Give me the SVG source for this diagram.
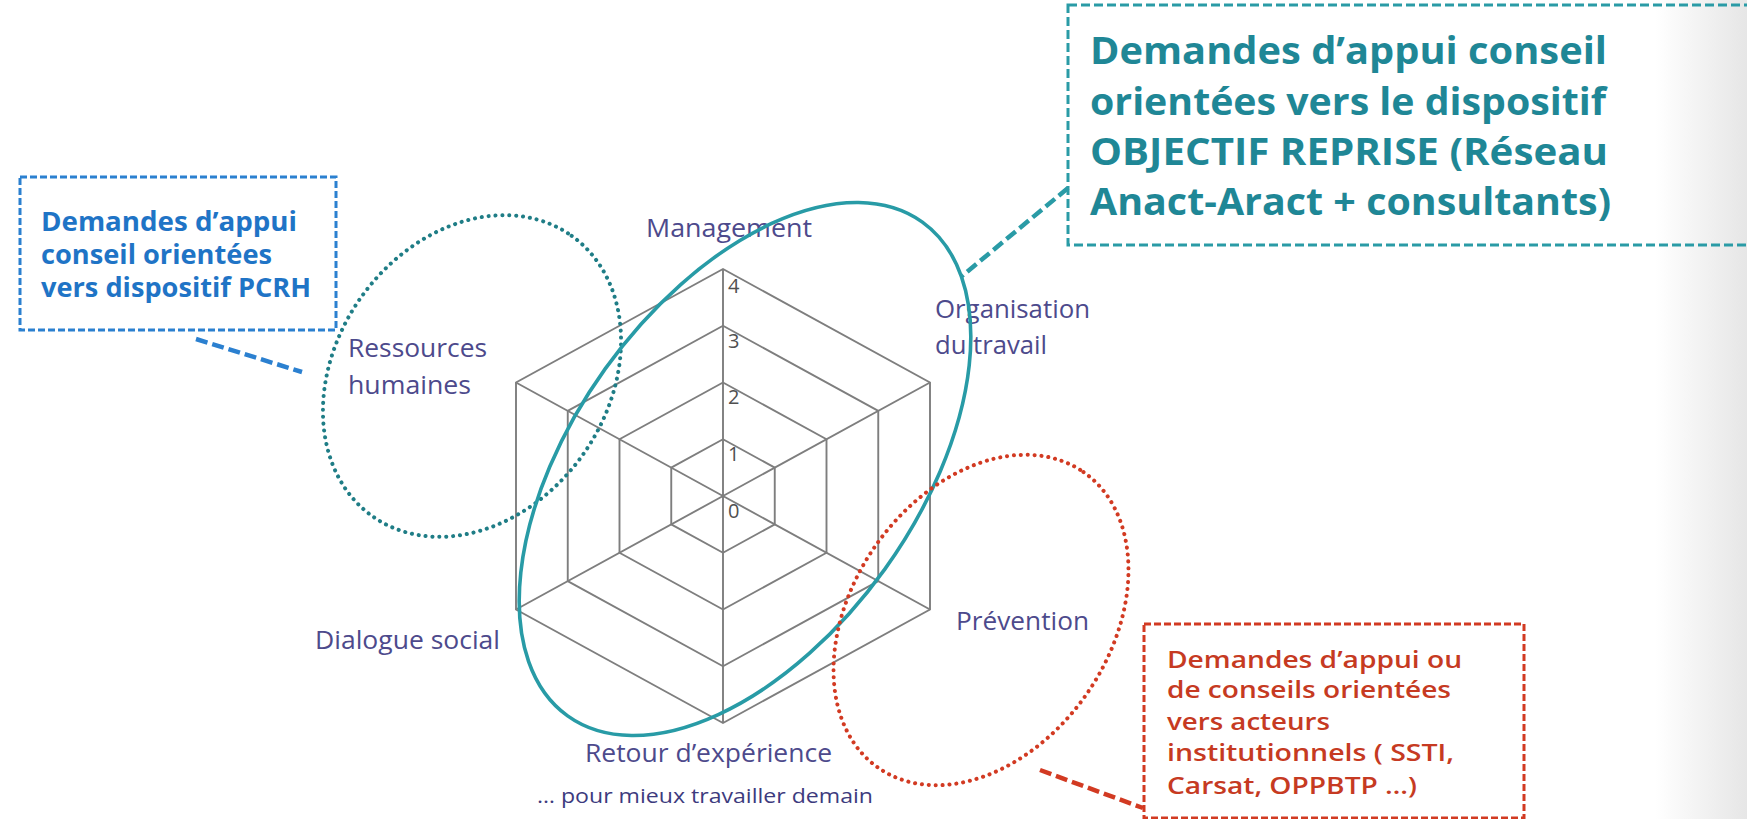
<svg xmlns="http://www.w3.org/2000/svg" width="1747" height="819" viewBox="0 0 1747 819">
<defs>
<linearGradient id="edge" x1="0" y1="0" x2="1" y2="0">
<stop offset="0" stop-color="#ffffff"/>
<stop offset="1" stop-color="#e6e6e6"/>
</linearGradient>
<style>
.grid{fill:none;stroke:#7e7e7e;stroke-width:1.9}
.num{font-family:'Open Sans','Liberation Sans',sans-serif;font-size:20px;fill:#505050}
.axis{font-family:'Open Sans','Liberation Sans',sans-serif;font-size:25px;font-weight:500;fill:#4d4a8c}
.cap{font-family:'Open Sans','Liberation Sans',sans-serif;font-size:20px;font-weight:500;fill:#3d3b7e}
.tpcrh{font-family:'Open Sans','Liberation Sans',sans-serif;font-size:26px;font-weight:bold;fill:#1f74c6}
.tobj{font-family:'Open Sans','Liberation Sans',sans-serif;font-size:37px;font-weight:bold;fill:#1f8796}
.tred{font-family:'Open Sans','Liberation Sans',sans-serif;font-size:24px;font-weight:600;fill:#c63a22}
.dotteal{fill:none;stroke:#1f7d86;stroke-width:4;stroke-linecap:round;stroke-dasharray:0.1 6.8}
.dotred{fill:none;stroke:#d23a22;stroke-width:4;stroke-linecap:round;stroke-dasharray:0.1 6.8}
.solidteal{fill:none;stroke:#289ba6;stroke-width:3.6}
.boxblue{fill:none;stroke:#2b80d0;stroke-width:3;stroke-dasharray:7 3}
.boxteal{fill:none;stroke:#2a9ba6;stroke-width:3;stroke-dasharray:9 4}
.boxred{fill:none;stroke:#d23a22;stroke-width:3;stroke-dasharray:7 3}
.conn{fill:none;stroke-width:4.5;stroke-dasharray:12 5}
</style>
</defs>
<rect x="0" y="0" width="1747" height="819" fill="#ffffff"/>
<rect x="1655" y="0" width="92" height="819" fill="url(#edge)"/>

<g id="radar">
<polygon class="grid" points="723,439.25 774.75,467.625 774.75,524.375 723,552.75 671.25,524.375 671.25,467.625"/>
<polygon class="grid" points="723,382.5 826.5,439.25 826.5,552.75 723,609.5 619.5,552.75 619.5,439.25"/>
<polygon class="grid" points="723,325.75 878.25,410.875 878.25,581.125 723,666.25 567.75,581.125 567.75,410.875"/>
<polygon class="grid" points="723,269 930,382.5 930,609.5 723,723 516,609.5 516,382.5"/>
<path class="grid" d="M723,496 L723,269 M723,496 L930,382.5 M723,496 L930,609.5 M723,496 L723,723 M723,496 L516,609.5 M723,496 L516,382.5"/>
<text class="num" x="728" y="293">4</text>
<text class="num" x="728" y="348">3</text>
<text class="num" x="728" y="404">2</text>
<text class="num" x="728" y="461">1</text>
<text class="num" x="728" y="518">0</text>
</g>

<g id="axis-labels">
<text class="axis" x="646" y="237" textLength="166" lengthAdjust="spacingAndGlyphs">Management</text>
<text class="axis" x="935" y="318" textLength="155" lengthAdjust="spacingAndGlyphs">Organisation</text>
<text class="axis" x="935" y="354" textLength="112" lengthAdjust="spacingAndGlyphs">du travail</text>
<text class="axis" x="348" y="357" textLength="139" lengthAdjust="spacingAndGlyphs">Ressources</text>
<text class="axis" x="348" y="394" textLength="123" lengthAdjust="spacingAndGlyphs">humaines</text>
<text class="axis" x="315" y="649" textLength="185" lengthAdjust="spacingAndGlyphs">Dialogue social</text>
<text class="axis" x="956" y="630" textLength="133" lengthAdjust="spacingAndGlyphs">Prévention</text>
<text class="axis" x="585" y="762" textLength="247" lengthAdjust="spacingAndGlyphs">Retour d’expérience</text>
<text class="cap" x="537" y="803" textLength="336" lengthAdjust="spacingAndGlyphs">… pour mieux travailler demain</text>
</g>

<g id="ellipse-pcrh">
<ellipse class="dotteal" cx="472" cy="376" rx="172" ry="136" transform="rotate(-54.6 472 376)"/>
</g>
<g id="ellipse-objectif">
<ellipse class="solidteal" cx="745" cy="469" rx="304" ry="172" transform="rotate(-54.3 745 469)"/>
</g>
<g id="ellipse-institutionnels">
<ellipse class="dotred" cx="981" cy="620" rx="180" ry="129" transform="rotate(-55.3 981 620)"/>
</g>

<g id="connectors">
<line class="conn" x1="196" y1="339" x2="302" y2="372" stroke="#2b80d0"/>
<line class="conn" x1="1068" y1="188" x2="962" y2="276" stroke="#2a9ba6"/>
<line class="conn" x1="1040" y1="770" x2="1143" y2="808" stroke="#d23a22"/>
</g>

<g id="box-pcrh">
<rect class="boxblue" x="20" y="177" width="316" height="153"/>
<text class="tpcrh" x="41" y="231" textLength="256" lengthAdjust="spacingAndGlyphs">Demandes d’appui</text>
<text class="tpcrh" x="41" y="264" textLength="231" lengthAdjust="spacingAndGlyphs">conseil orientées</text>
<text class="tpcrh" x="41" y="297" textLength="270" lengthAdjust="spacingAndGlyphs">vers dispositif PCRH</text>
</g>

<g id="box-objectif">
<rect class="boxteal" x="1068" y="5" width="700" height="240"/>
<text class="tobj" x="1090" y="64" textLength="517" lengthAdjust="spacingAndGlyphs">Demandes d’appui conseil</text>
<text class="tobj" x="1090" y="115" textLength="516" lengthAdjust="spacingAndGlyphs">orientées vers le dispositif</text>
<text class="tobj" x="1090" y="165" textLength="518" lengthAdjust="spacingAndGlyphs">OBJECTIF REPRISE (Réseau</text>
<text class="tobj" x="1090" y="215" textLength="521" lengthAdjust="spacingAndGlyphs">Anact-Aract + consultants)</text>
</g>

<g id="box-institutionnels">
<rect class="boxred" x="1144" y="624" width="380" height="194"/>
<text class="tred" x="1167" y="668" textLength="295" lengthAdjust="spacingAndGlyphs">Demandes d’appui ou</text>
<text class="tred" x="1167" y="698" textLength="284" lengthAdjust="spacingAndGlyphs">de conseils orientées</text>
<text class="tred" x="1167" y="730" textLength="163" lengthAdjust="spacingAndGlyphs">vers acteurs</text>
<text class="tred" x="1167" y="761" textLength="287" lengthAdjust="spacingAndGlyphs">institutionnels ( SSTI,</text>
<text class="tred" x="1167" y="794" textLength="250" lengthAdjust="spacingAndGlyphs">Carsat, OPPBTP …)</text>
</g>
</svg>
